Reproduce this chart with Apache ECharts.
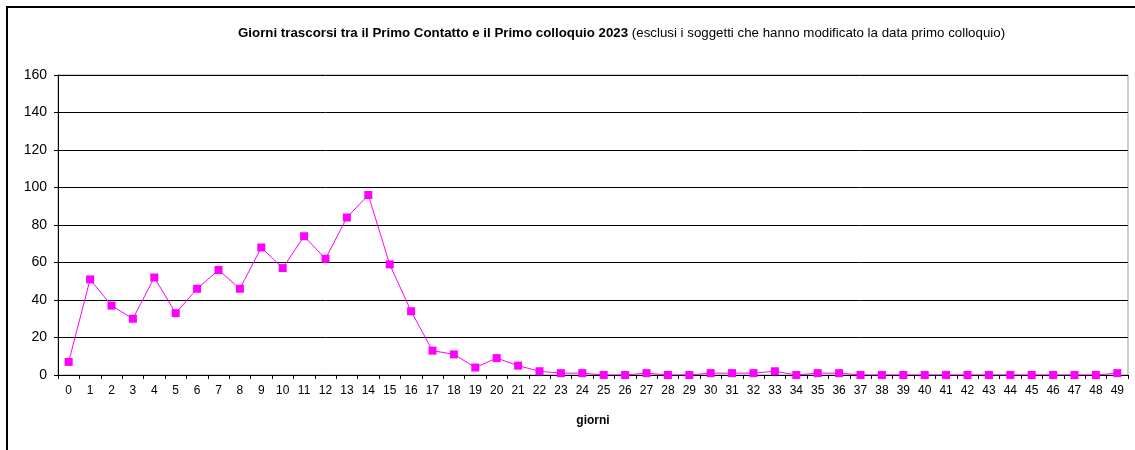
<!DOCTYPE html>
<html>
<head>
<meta charset="utf-8">
<script src="https://cdn.jsdelivr.net/npm/echarts@6/dist/echarts.min.js"></script>
<style>
  html, body { margin: 0; padding: 0; background: #fff; }
  #chart { width: 1135px; height: 450px; }
</style>
</head>
<body>
<div id="chart"></div>
<script>
var days = [];
for (var i = 0; i <= 49; i++) days.push(String(i));

var counts = [
  7, 51, 37, 30, 52, 33, 46, 56, 46, 68,
  57, 74, 62, 84, 96, 59, 34, 13, 11, 4,
  9, 5, 2, 1, 1, 0, 0, 1, 0, 0,
  1, 1, 1, 2, 0, 1, 1, 0, 0, 0,
  0, 0, 0, 0, 0, 0, 0, 0, 0, 1
];

var titleBold = 'Giorni trascorsi tra il Primo Contatto e il Primo colloquio 2023';
var titleNormal = ' (esclusi i soggetti che hanno modificato la data primo colloquio)';

var chart = echarts.init(document.getElementById('chart'), null, { renderer: 'canvas' });
chart.setOption({
  animation: false,
  backgroundColor: '#fff',
  textStyle: { fontFamily: 'Liberation Sans, Arial, sans-serif', color: '#000' },
  title: {
    text: '{b|' + titleBold + '}{n|' + titleNormal + '}',
    left: 233,
    top: 22,
    textStyle: {
      rich: {
        b: { fontSize: 13.3, fontWeight: 'bold', color: '#000', fontFamily: 'Liberation Sans, Arial, sans-serif' },
        n: { fontSize: 13.3, fontWeight: 'normal', color: '#000', fontFamily: 'Liberation Sans, Arial, sans-serif' }
      }
    }
  },
  graphic: [{
    type: 'rect',
    shape: { x: 7, y: 7, width: 1140, height: 460 },
    style: { fill: 'none', stroke: '#000', lineWidth: 2 },
    silent: true
  }],
  grid: {
    left: 58, right: 7, top: 75, bottom: 75,
    show: true, borderColor: '#999', borderWidth: 1, backgroundColor: 'transparent'
  },
  xAxis: {
    type: 'category',
    data: days,
    boundaryGap: true,
    name: 'giorni',
    nameLocation: 'middle',
    nameGap: 40,
    nameTextStyle: { fontSize: 12, fontWeight: 'bold', color: '#000' },
    axisLine: { lineStyle: { color: '#000', width: 1 } },
    axisTick: { show: true, alignWithLabel: false, length: 4, lineStyle: { color: '#000' } },
    axisLabel: { interval: 0, fontSize: 12, color: '#000', margin: 10 },
    splitLine: { show: false }
  },
  yAxis: {
    type: 'value',
    min: 0, max: 160, interval: 20,
    axisLine: { show: true, lineStyle: { color: '#000', width: 1 } },
    axisTick: { show: true, length: 4, lineStyle: { color: '#000' } },
    axisLabel: { fontSize: 14, color: '#000', margin: 11 },
    splitLine: { show: true, lineStyle: { color: '#000', width: 1 } }
  },
  series: [{
    type: 'line',
    data: counts,
    symbol: 'rect',
    symbolSize: 8,
    lineStyle: { color: '#FF00FF', width: 1 },
    itemStyle: { color: '#FF00FF' }
  }]
});
</script>
</body>
</html>
